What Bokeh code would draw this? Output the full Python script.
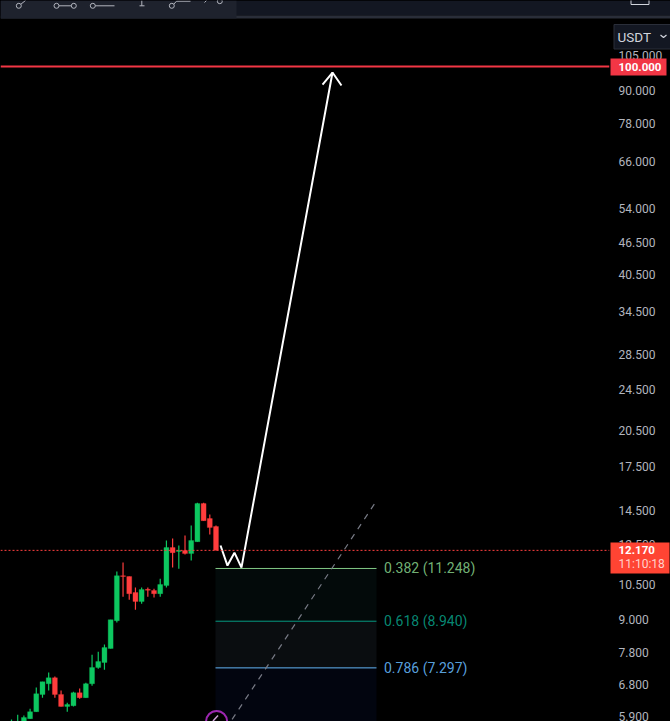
from bokeh.plotting import figure
from bokeh.embed import file_html
from bokeh.resources import INLINE
from bokeh.layouts import column
from bokeh.models import Range1d, FixedTicker, Label, Span, LinearScale

# ---- data ----
opens = [5.50, 5.55, 5.72, 5.85, 6.03, 6.50, 6.81, 6.99, 6.50, 6.17, 6.19, 6.55, 6.41, 6.81, 7.31, 7.47, 7.94,
         8.96, 10.90, 10.86, 10.13, 9.74, 10.27, 10.22, 10.08, 10.44, 12.32, 12.11, 12.16, 12.00, 12.64, 14.92, 13.98, 13.50]
highs = [5.83, 5.95, 5.93, 6.11, 6.70, 6.87, 7.15, 7.03, 6.61, 6.27, 6.58, 6.67, 6.84, 7.73, 7.83, 8.08, 9.00,
         11.10, 11.54, 10.86, 10.35, 10.35, 10.35, 10.30, 10.76, 12.70, 12.81, 12.43, 12.98, 13.56, 14.98, 14.98, 14.22, 13.56]
lows = [5.40, 5.50, 5.70, 5.85, 6.03, 6.41, 6.61, 6.41, 6.17, 6.03, 6.17, 6.38, 6.41, 6.75, 7.27, 7.24, 7.94,
        8.89, 9.95, 9.82, 9.40, 9.65, 9.95, 9.91, 9.95, 10.35, 11.29, 11.24, 11.95, 11.64, 12.64, 13.85, 13.04, 12.17]
closes = [5.70, 5.72, 5.88, 6.03, 6.52, 6.87, 6.99, 6.50, 6.17, 6.22, 6.55, 6.41, 6.81, 7.31, 7.50, 7.97, 9.00,
          10.90, 10.86, 10.08, 9.74, 10.26, 10.23, 10.08, 10.49, 12.32, 12.05, 12.16, 12.00, 12.70, 14.92, 13.85, 13.44, 12.17]

tick_values = [105, 90, 78, 66, 54, 46.5, 40.5, 34.5, 28.5, 24.5, 20.5, 17.5, 14.5, 12.5, 10.5, 9, 7.8, 6.8, 5.9]
tick_labels = ["105.000", "90.000", "78.000", "66.000", "54.000", "46.500", "40.500", "34.500", "28.500", "24.500",
               "20.500", "17.500", "14.500", "12.500", "10.500", "9.000", "7.800", "6.800", "5.900"]

target_price = 100.0
target_label = "100.000"
last_price = 12.17
last_label = "12.170"
countdown = "11:10:18"

fib_values = [11.248, 8.940, 7.297]
fib_labels = ["0.382 (11.248)", "0.618 (8.940)", "0.786 (7.297)"]
fib_colors = ["#81c784", "#089981", "#64b5f6"]
fib_fills = ["#030a0a", "#0a0d10", "#02050f"]

path_x = [33.73, 34.85, 35.98, 37.11, 51.80]
path_y = [12.43, 11.39, 12.05, 11.29, 97.42]
head_x = [50.19, 51.80, 53.25]
head_y = [92.46, 97.42, 92.06]
trend_x = [35.6, 58.9]
trend_y = [5.83, 15.1]
handle_x = [33.1]
handle_y = [5.78]

fib_left, fib_right, y_low, y_high = 32.92, 58.9, 5.778, 133.3

# ---- main chart ----
GREEN, RED = "#0dc760", "#ff3d3d"
shared_y = Range1d(y_low, y_high)
p = figure(width=670, height=721, frame_width=609, frame_height=721, output_backend="svg", toolbar_location=None,
           x_axis_location=None, y_axis_location="right", y_axis_type="log",
           x_range=Range1d(-1.775, 96.5), y_range=shared_y,
           background_fill_color="#000000", border_fill_color="#000000",
           min_border=0, min_border_right=61, outline_line_color=None)
p.frame_align = False
p.styles = {"position": "fixed", "left": "0px", "top": "0px", "background-color": "#000000"}
p.grid.visible = False
ax = p.yaxis[0]
ax.ticker = FixedTicker(ticks=tick_values)
ax.major_label_overrides = dict(zip(tick_values, tick_labels))
ax.axis_line_color = None
ax.major_tick_line_color = None
ax.minor_tick_line_color = None
ax.major_tick_out = 0
ax.major_label_standoff = 9
ax.major_label_text_color = "#b2b5be"
ax.major_label_text_font = "Roboto"
ax.major_label_text_font_size = "12px"

# Fibonacci zone
fib_bots = fib_values[1:] + [y_low]
p.quad(left=fib_left, right=fib_right, top=fib_values, bottom=fib_bots, fill_color=fib_fills, line_color=None)
p.segment(x0=fib_left, x1=fib_right, y0=fib_values, y1=fib_values, line_color=fib_colors, line_width=1)
for v, t, c in zip(fib_values, fib_labels, fib_colors):
    p.add_layout(Label(x=383.5, x_units="screen", y=v, text=t, text_color=c, text_alpha=0.9, text_font="Roboto",
                       text_font_size="14px", text_baseline="middle"))
p.line(trend_x, trend_y, line_color="#787b86", line_width=1.2, line_dash=[6, 6])

# candles
xs = list(range(len(opens)))
cols = [GREEN if c >= o_ else RED for o_, c in zip(opens, closes)]
p.segment(x0=xs, x1=xs, y0=lows, y1=highs, line_color=cols, line_width=1.2)
tops = [max(o_, c) for o_, c in zip(opens, closes)]
bots = [min(o_, c) for o_, c in zip(opens, closes)]
p.vbar(x=xs, width=0.8, top=tops, bottom=bots, fill_color=cols, line_color=cols, line_width=0.3)

# price lines
p.add_layout(Span(location=last_price, dimension="width", line_color="#ff4040", line_width=1, line_dash=[2, 2]))
p.add_layout(Span(location=target_price, dimension="width", line_color="#f23645", line_width=2))

# drawing
p.line(path_x, path_y, line_color="#ffffff", line_width=2)
p.line(head_x, head_y, line_color="#ffffff", line_width=2)
p.scatter(handle_x, handle_y, size=21, fill_color="#000000", line_color="#9c27b0", line_width=2)

# ---- transparent layer on top: header chrome and axis flags ----
o = figure(width=670, height=721, frame_width=670, frame_height=721, output_backend="svg", toolbar_location=None,
           x_axis_location=None, y_axis_location=None, y_axis_type="log",
           x_range=Range1d(0, 670), y_range=shared_y,
           background_fill_color=None, border_fill_color=None, min_border=0, outline_line_color=None)
o.frame_align = False
o.styles = {"position": "fixed", "left": "0px", "top": "0px"}
o.grid.visible = False
o.extra_y_ranges["px"] = Range1d(721, 0)
o.extra_y_scales = {"px": LinearScale()}


def box(l, r, t, b, fill, line=None):
    o.quad(left=[l], right=[r], top=[t], bottom=[b], fill_color=fill, line_color=line, y_range_name="px")


box(0, 670, 0, 15, "#131722")
box(0, 670, 15, 18, "#2a2e39")
box(0, 236, 0, 18, "#1e222d")
box(630.5, 648.5, -6, 4, "#131722", "#d1d4dc")
box(613.5, 672, 24, 48.5, "#131722", "#2a2e39")

ic = "#b2b5be"
o.multi_line(xs=[[20, 25], [58, 71], [94, 114], [141.3, 141.3], [139, 144], [173, 176, 190], [204, 206]],
             ys=[[4, 0], [5.3, 5.3], [5.3, 5.3], [0, 5.3], [5.3, 5.3], [4, 0.7, 0.7], [2, 0]],
             line_color=ic, line_width=1, y_range_name="px")
o.scatter([18.3, 56, 73.3, 92.3, 171.3, 219.3], [5.3, 5.3, 5.3, 5.3, 5.3, 0.7], size=5, fill_color="#1e222d",
          line_color=ic, line_width=1, y_range_name="px")
o.line([212.5, 217.5], [720.5, 715], line_color="#cfa3d8", line_width=1.5, y_range_name="px")
o.line([660, 663, 666], [34.5, 37, 34.5], line_color="#d1d4dc", line_width=1.2, y_range_name="px")

o.add_layout(Label(x=617, y=36, y_range_name="px", text="USDT", text_color="#d1d4dc",
                   text_font="Roboto", text_font_size="13.5px", text_baseline="middle"))

# axis flags
box(610, 666, 58, 75, "#f23645")
box(610, 669, 542, 573, "#ff4433")
o.add_layout(Label(x=618, y=target_price, text=target_label, text_color="#ffffff", text_font="Roboto",
                   text_font_size="11.5px", text_font_style="bold", text_baseline="middle"))
o.add_layout(Label(x=618, y=last_price, text=last_label, text_color="#ffffff", text_font="Roboto",
                   text_font_size="11.5px", text_font_style="bold", text_baseline="middle"))
o.add_layout(Label(x=618, y=last_price, y_offset=-14, text=countdown, text_color="#ffd2cc",
                   text_font="Roboto", text_font_size="12px", text_baseline="middle"))

open("out.html", "w").write(file_html(column(p, o), INLINE))
